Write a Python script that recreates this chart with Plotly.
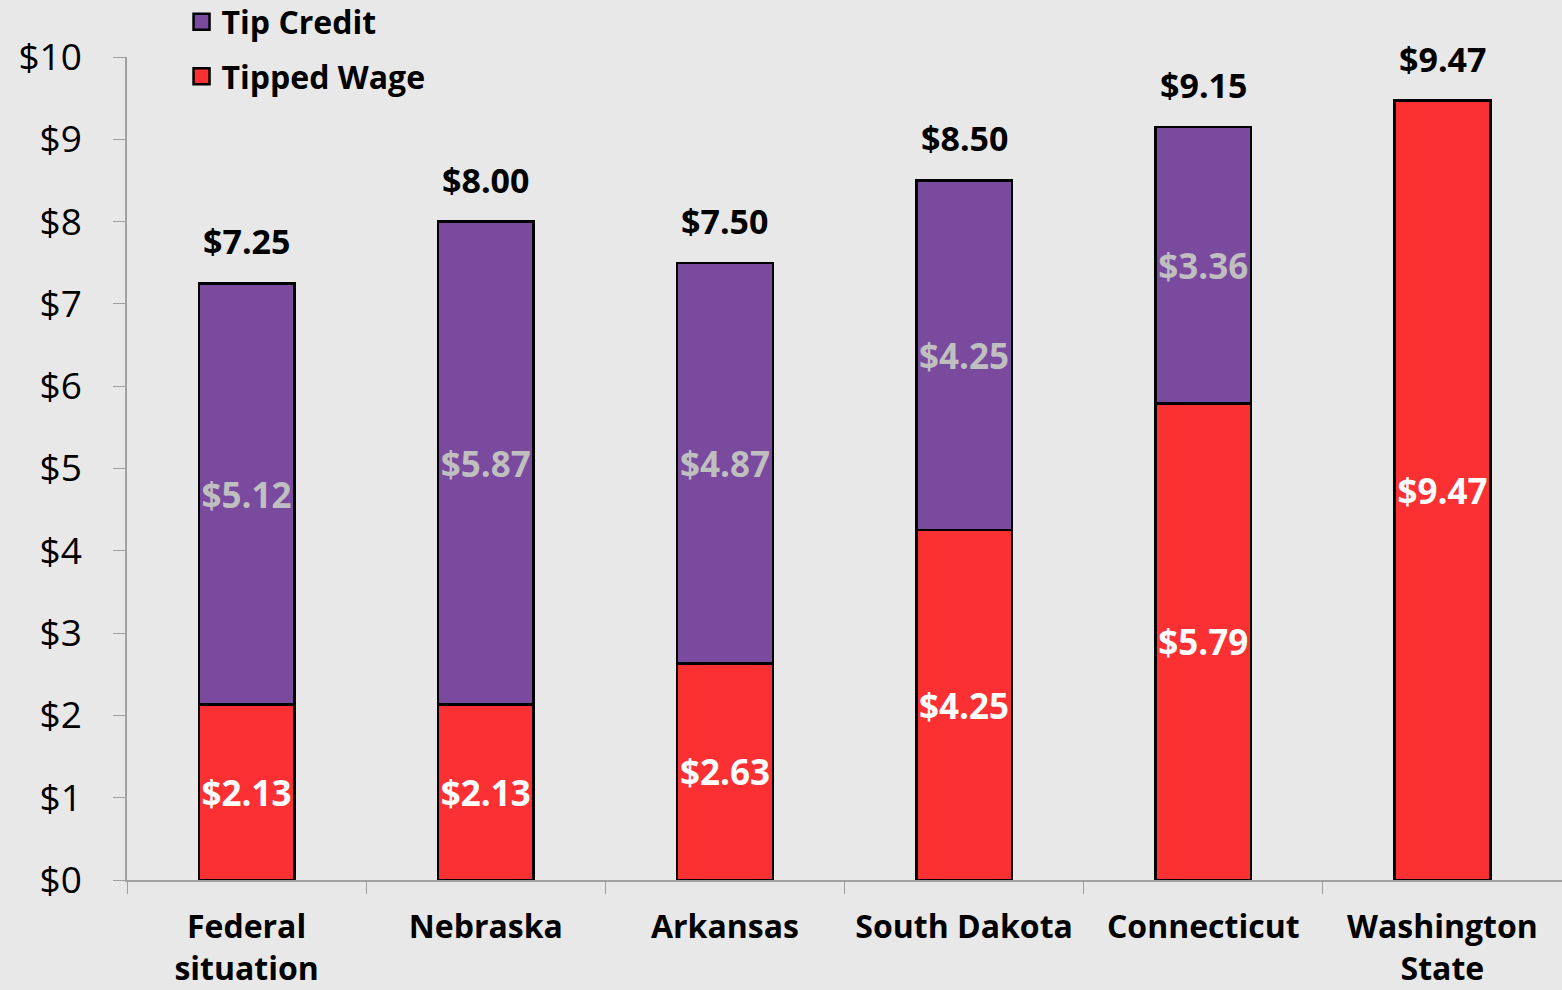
import plotly.graph_objects as go

states = ["Federal<br>situation", "Nebraska", "Arkansas", "South Dakota", "Connecticut", "Washington<br>State"]
tipped_wage = [2.13, 2.13, 2.63, 4.25, 5.79, 9.47]
tip_credit = [5.12, 5.87, 4.87, 4.25, 3.36, None]
totals = [7.25, 8.00, 7.50, 8.50, 9.15, 9.47]

RED = "#FB3033"
PURPLE = "#7A4A9E"
BG = "#E8E8E8"
FONT = "Open Sans"

def money(v):
    return "" if v is None else f"${v:.2f}"

fig = go.Figure()
fig.add_trace(go.Bar(
    x=states, y=tipped_wage, name="Tipped Wage", showlegend=False,
    marker=dict(color=RED, line=dict(color="black", width=2.5)),
    text=[money(v) for v in tipped_wage], textposition="inside",
    insidetextanchor="middle", textangle=0, constraintext="none",
    textfont=dict(family=FONT, size=35, color="white", weight="bold"),
    width=0.4,
))
fig.add_trace(go.Bar(
    x=states, y=tip_credit, name="Tip Credit", showlegend=False,
    marker=dict(color=PURPLE, line=dict(color="black", width=2.5)),
    text=[money(v) for v in tip_credit], textposition="inside",
    insidetextanchor="middle", textangle=0, constraintext="none",
    textfont=dict(family=FONT, size=35, color="#BFBFBF", weight="bold"),
    width=0.4,
))

# legend entries with bigger square swatches
for name, color in [("Tip Credit", PURPLE), ("Tipped Wage", RED)]:
    fig.add_trace(go.Scatter(
        x=[None], y=[None], mode="markers", name=name, legendgroup=name,
        marker=dict(symbol="square", size=16, color=color, line=dict(color="black", width=2.5)),
    ))

# totals above each bar
for s, t in zip(states, totals):
    fig.add_annotation(
        x=s, y=t, text=f"<b>{money(t)}</b>", showarrow=False,
        yanchor="bottom", yshift=17,
        font=dict(family=FONT, size=34, color="black"),
    )

fig.update_layout(
    width=1562, height=990,
    barmode="stack",
    paper_bgcolor=BG, plot_bgcolor=BG,
    margin=dict(l=127, r=0, t=57, b=110, autoexpand=False),
    font=dict(family=FONT, color="black"),
    legend=dict(
        x=0.038, y=1.076, xanchor="left", yanchor="top",
        traceorder="grouped", tracegroupgap=10, itemsizing="trace",
        font=dict(family=FONT, size=32, color="black", weight="bold"),
        bgcolor="rgba(0,0,0,0)",
    ),
    xaxis=dict(
        showline=True, linecolor="#A0A0A0", linewidth=1.5,
        ticks="outside", tickson="boundaries", ticklen=12, tickcolor="#A0A0A0",
        ticklabelstandoff=18,
        tickfont=dict(family=FONT, size=32, color="black", weight="bold"),
        showgrid=False,
    ),
    yaxis=dict(
        range=[0, 10], dtick=1, tickprefix="$",
        showline=True, linecolor="#A0A0A0", linewidth=1.5,
        ticks="outside", ticklen=12, tickcolor="#A0A0A0",
        ticklabelstandoff=24,
        tickfont=dict(family=FONT, size=37, color="black"),
        showgrid=False, zeroline=False,
    ),
)

fig.write_html("out.html", config={"displayModeBar": False},
               post_script="document.body.style.margin='0';")
